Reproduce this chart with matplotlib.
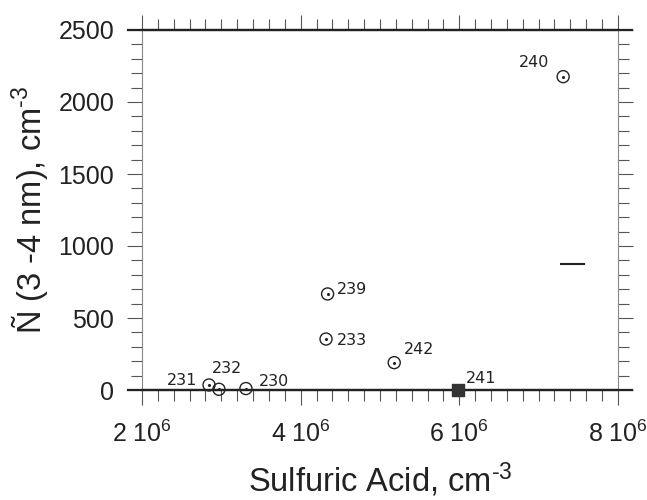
import matplotlib
matplotlib.use("Agg")
import matplotlib.pyplot as plt
from matplotlib.ticker import MultipleLocator, FixedLocator, FixedFormatter

plt.rcParams['font.family'] = ['Liberation Sans', 'DejaVu Sans']
plt.rcParams['mathtext.default'] = 'regular'

# data
run_ids = ['231', '232', '230', '239', '233', '242', '240']
acid = [2.845e6, 2.97e6, 3.31e6, 4.34e6, 4.32e6, 5.18e6, 7.31e6]
n34 = [35, 5, 10, 667, 354, 190, 2176]
filled_id = '241'
filled_acid = 5.98e6
filled_n = 0
dash_x = [7.28e6, 7.57e6]
dash_y = [875, 875]

# label offsets (points)
label_offsets = {'231': (-30, 0), '232': (-5, 11.5), '230': (9, 2), '239': (7, 0),
                 '233': (8, -4), '242': (7, 6), '240': (-32, 7), '241': (6, 5)}

xticks = [2e6, 4e6, 6e6, 8e6]
xticklabels = ['2 10$^6$', '4 10$^6$', '6 10$^6$', '8 10$^6$']
yticks = [0, 500, 1000, 1500, 2000, 2500]
ylim = (0, 2500)

fig = plt.figure(figsize=(6.47, 5.0), dpi=100)
ax = fig.add_axes([0.2195, 0.22, 0.7355, 0.72])

ax.scatter(acid, n34, s=75, facecolors='none', edgecolors='#222222', linewidths=1.0,
           zorder=3, clip_on=False)
ax.scatter(acid, n34, s=1.5, color='#222222', zorder=4, clip_on=False)
ax.scatter([filled_acid], [filled_n], s=85, marker='s', color='#333333', zorder=3,
           clip_on=False)
ax.plot(dash_x, dash_y, color='#222222', lw=1.5)

# heavy frame lines at the y limits, extended a little past the sides
for yv in ylim:
    ax.plot([-0.03, 1.03], [yv, yv], transform=ax.get_yaxis_transform(),
            color='#222222', lw=1.6, clip_on=False, zorder=2)

for rid, x, y in zip(run_ids + [filled_id], acid + [filled_acid], n34 + [filled_n]):
    dx, dy = label_offsets[rid]
    ax.annotate(rid, (x, y), xytext=(dx, dy), textcoords='offset points',
                fontsize=11.5, family='DejaVu Sans', color='#222222',
                va='baseline', ha='left')

ax.set_xlim(2e6, 8e6)
ax.set_ylim(*ylim)
ax.xaxis.set_major_locator(FixedLocator(xticks))
ax.xaxis.set_major_formatter(FixedFormatter(xticklabels))
ax.xaxis.set_minor_locator(MultipleLocator(0.2e6))
ax.yaxis.set_major_locator(FixedLocator(yticks))
ax.yaxis.set_minor_locator(MultipleLocator(100))

ax.tick_params(which='both', direction='out', top=True, right=True,
               labeltop=False, labelright=False, color='#555555', width=0.8)
ax.tick_params(which='major', length=11, labelsize=18, labelcolor='#222222')
ax.tick_params(which='minor', length=8)
ax.tick_params(axis='x', which='major', pad=11)
ax.tick_params(axis='y', which='major', pad=9)

for s in ['left', 'right']:
    ax.spines[s].set_color('#888888')
    ax.spines[s].set_linewidth(0.8)
for s in ['top', 'bottom']:
    ax.spines[s].set_color('#222222')
    ax.spines[s].set_linewidth(1.6)

ax.set_xlabel('Sulfuric Acid, cm$^{\u2010 3}$', fontsize=23.5, labelpad=10, color='#222222')
ax.set_ylabel('Ñ (3 -4 nm), cm$^{\u2010 3}$', fontsize=23.5, labelpad=6, color='#222222')

fig.savefig('out.png', dpi=100)
